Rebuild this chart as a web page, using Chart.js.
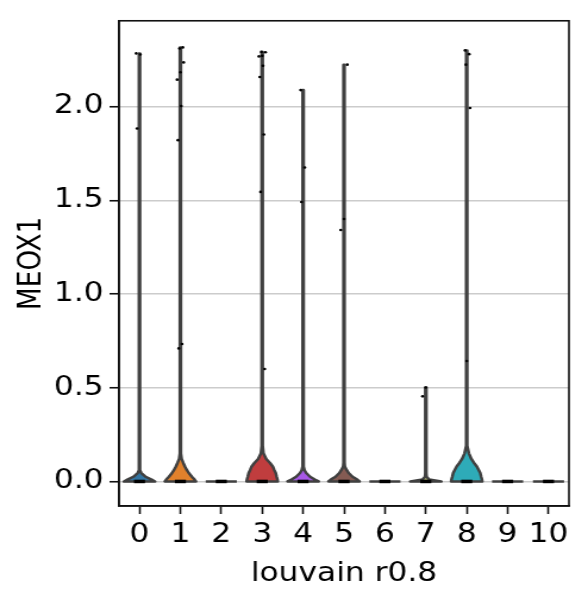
<!DOCTYPE html>
<html><head><meta charset="utf-8">
<script src="https://cdn.jsdelivr.net/npm/chart.js@4"></script>
<style>
html,body{margin:0;padding:0;background:#fff;overflow:hidden}
#wrap{width:494px;height:604px;transform:scaleX(1.1903);transform-origin:0 0;}
</style></head>
<body><div id="wrap"><canvas id="c" width="494" height="604"></canvas></div>
<script>
// ---- data ----
const categories = ['0','1','2','3','4','5','6','7','8','9','10'];
const xTitle = 'louvain r0.8';
const yTitle = 'MEOX1';
const yTicks = [0, 0.5, 1.0, 1.5, 2.0];
// max expression per cluster (0 = all cells zero)
const violinMax = [2.284, 2.316, 0, 2.292, 2.088, 2.224, 0, 0.501, 2.300, 0, 0];
// density profile (relative half-width) sampled at these expression values
const densityGrid = [0, 0.01, 0.025, 0.045, 0.06, 0.08, 0.10, 0.12, 0.15, 0.19];
const density0 = [1, 0.78, 0.40, 0.12, 0.03, 0.03, 0.03, 0.03, 0.03, 0.03];
const density1 = [1, 0.91, 0.74, 0.54, 0.42, 0.29, 0.18, 0.08, 0.03, 0.03];
const density3 = [1, 0.98, 0.93, 0.87, 0.78, 0.68, 0.49, 0.26, 0.08, 0.03];
const density4 = [1, 0.75, 0.45, 0.20, 0.09, 0.03, 0.03, 0.03, 0.03, 0.03];
const density5 = [1, 0.85, 0.55, 0.30, 0.18, 0.05, 0.03, 0.03, 0.03, 0.03];
const density7 = [1, 0.22, 0.05, 0.03, 0.03, 0.03, 0.03, 0.03, 0.03, 0.03];
const density8 = [1, 0.98, 0.93, 0.87, 0.78, 0.65, 0.46, 0.30, 0.14, 0.03];
const violinDensity = [density0, density1, null, density3, density4, density5, null, density7, density8, null, null];
// non-zero cells shown as strip points
const points0 = [2.284, 2.278, 1.883];
const points1 = [2.316, 2.310, 2.236, 2.183, 2.144, 2.003, 1.821, 0.733, 0.710];
const points3 = [2.292, 2.290, 2.271, 2.268, 2.218, 2.158, 1.851, 1.545, 0.600];
const points4 = [2.088, 1.675, 1.491];
const points5 = [2.224, 1.400, 1.342];
const points7 = [0.501, 0.454];
const points8 = [2.300, 2.280, 2.224, 1.993, 0.643];
const stripValues = [points0, points1, [], points3, points4, points5, [], points7, points8, [], []];
const palette = ['#1f77b4','#ff7f0e','#279e68','#d62728','#aa40fc','#8c564b','#e377c2','#b5bd61','#17becf','#aec7e8','#ffbb78'];

// ---- helpers ----
function desaturate(hex, prop){
  let r=parseInt(hex.slice(1,3),16)/255,g=parseInt(hex.slice(3,5),16)/255,b=parseInt(hex.slice(5,7),16)/255;
  const mx=Math.max(r,g,b),mn=Math.min(r,g,b);let h=0,s=0;const l=(mx+mn)/2;
  if(mx!==mn){const d=mx-mn;s=l>0.5?d/(2-mx-mn):d/(mx+mn);
    if(mx===r)h=((g-b)/d+(g<b?6:0));else if(mx===g)h=(b-r)/d+2;else h=(r-g)/d+4;h/=6;}
  s*=prop;
  const hue2rgb=(p,q,t)=>{if(t<0)t+=1;if(t>1)t-=1;if(t<1/6)return p+(q-p)*6*t;if(t<1/2)return q;if(t<2/3)return p+(q-p)*(2/3-t)*6;return p;};
  let R,G,B;if(s===0){R=G=B=l;}else{const q=l<0.5?l*(1+s):l+s-l*s;const p=2*l-q;R=hue2rgb(p,q,h+1/3);G=hue2rgb(p,q,h);B=hue2rgb(p,q,h-1/3);}
  return `rgb(${Math.round(R*255)},${Math.round(G*255)},${Math.round(B*255)})`;
}
const fillColors = palette.map(c=>desaturate(c,0.75));
const edgeColor = '#404040';
const jitter = (c,i) => ((((c*7 + i*5) % 9) / 8) - 0.5) * 0.16;

const stripData = [];
stripValues.forEach((vals,c)=>vals.forEach((v,i)=>stripData.push({x:c + jitter(c,i), y:v})));

const FONT = {family:'DejaVu Sans', size:26.3};

const violinPlugin = {
  id:'violins',
  beforeDatasetsDraw(chart){
    const {ctx, chartArea:a, scales:{x,y}} = chart;
    const unit = x.getPixelForValue(1) - x.getPixelForValue(0);
    const hw = 0.38*unit;
    const y0 = y.getPixelForValue(0);
    ctx.save();
    ctx.beginPath(); ctx.rect(a.left,a.top,a.right-a.left,a.bottom-a.top); ctx.clip();
    ctx.lineWidth = 2.5; ctx.strokeStyle = edgeColor; ctx.lineJoin = 'round';
    categories.forEach((cat,i)=>{
      const cx = x.getPixelForValue(i);
      const M = violinMax[i];
      const prof = violinDensity[i];
      if(!(M>0) || !prof){
        ctx.beginPath(); ctx.moveTo(cx-hw,y0); ctx.lineTo(cx+hw,y0); ctx.stroke();
      } else {
        const pts=[];
        densityGrid.forEach((v,k)=>{ if(v<M) pts.push([v,prof[k]]); });
        pts.push([M, prof[Math.min(pts.length, prof.length-1)]]);
        ctx.beginPath();
        pts.forEach(([v,w],j)=>{ const px=cx+w*hw, py=y.getPixelForValue(v); j?ctx.lineTo(px,py):ctx.moveTo(px,py); });
        for(let j=pts.length-1;j>=0;j--){ const [v,w]=pts[j]; ctx.lineTo(cx-w*hw, y.getPixelForValue(v)); }
        ctx.closePath();
        ctx.fillStyle = fillColors[i]; ctx.fill(); ctx.stroke();
      }
      // dense band of zero-valued cells
      ctx.fillStyle = '#000';
      ctx.fillRect(cx-0.135*unit, y0-1.75, 0.27*unit, 3.5);
    });
    ctx.restore();
  },
  afterDraw(chart){
    const {ctx, chartArea:a} = chart;
    ctx.save(); ctx.strokeStyle='#111'; ctx.lineWidth=1.6;
    ctx.strokeRect(a.left,a.top,a.right-a.left,a.bottom-a.top);
    ctx.restore();
  }
};

new Chart(document.getElementById('c'), {
  type:'scatter',
  data:{datasets:[{data:stripData, pointRadius:1.3, pointHoverRadius:1.3, pointBackgroundColor:'#000', pointBorderWidth:0, borderColor:'#000'}]},
  options:{
    responsive:false, animation:false, devicePixelRatio:1,
    layout:{padding:{left:0,right:16,top:17.5,bottom:0}},
    plugins:{legend:{display:false}, tooltip:{enabled:false}},
    scales:{
      x:{type:'linear', min:-0.5, max:10.5,
        afterFit(s){ s.height = 98; },
        afterBuildTicks(s){ s.ticks = categories.map((c,i)=>({value:i})); },
        ticks:{font:FONT, color:'#000', padding:5.7, maxRotation:0, autoSkip:false, callback:(v)=>categories[v]},
        grid:{drawOnChartArea:false, drawTicks:true, tickLength:8, tickColor:'#111', tickWidth:1.6},
        border:{display:true, color:'#111', width:1.6},
        title:{display:true, text:xTitle, font:FONT, color:'#000', padding:{top:0,bottom:14.4}}
      },
      y:{type:'linear', min:-0.131, max:2.458,
        afterFit(s){ s.width = 100; },
        afterBuildTicks(s){ s.ticks = yTicks.map(v=>({value:v})); },
        ticks:{font:FONT, color:'#000', padding:5, callback:(v)=>Number(v).toFixed(1)},
        grid:{color:'#cccccc', lineWidth:1.5, drawTicks:true, tickLength:8, tickColor:'#111', tickWidth:1.6},
        border:{display:true, color:'#111', width:1.6},
        title:{display:true, text:yTitle, font:FONT, color:'#000', padding:{top:11.4,bottom:0}}
      }
    }
  },
  plugins:[violinPlugin]
});
</script>
</body></html>
